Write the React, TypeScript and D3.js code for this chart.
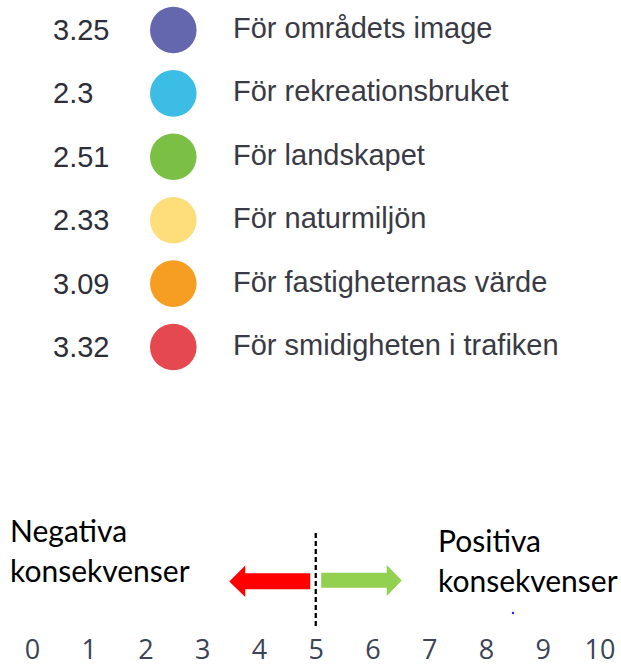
import React from "react";
import * as d3 from "d3";

const categories = [
  "För områdets image",
  "För rekreationsbruket",
  "För landskapet",
  "För naturmiljön",
  "För fastigheternas värde",
  "För smidigheten i trafiken",
];
const values = [3.25, 2.3, 2.51, 2.33, 3.09, 3.32];
const colors = ["#6567ae", "#3cbde6", "#7bbf44", "#fedd7b", "#f59e21", "#e5484f"];
const ticks = [0, 1, 2, 3, 4, 5, 6, 7, 8, 9, 10];
const negLabel = ["Negativa", "konsekvenser"];
const posLabel = ["Positiva", "konsekvenser"];
const midpoint = 5;

const W = 621;
const H = 664;

export default function App() {
  const y = d3.scalePoint<number>().domain(d3.range(categories.length)).range([30, 347]);
  const x = d3.scaleLinear().domain([0, 10]).range([32.5, 600]);
  const mid = x(midpoint);

  const redArrow = `M${mid - 6},573.3 L${mid - 71},573.3 L${mid - 71},565.5 L${mid - 87},581.5 L${mid - 71},597 L${mid - 71},589.3 L${mid - 6},589.3 Z`;
  const greenArrow = `M${mid + 5},572.7 L${mid + 70.5},572.7 L${mid + 70.5},565 L${mid + 85.5},580.5 L${mid + 70.5},596 L${mid + 70.5},587.7 L${mid + 5},587.7 Z`;

  return (
    <svg width={W} height={H} style={{ position: "absolute", left: 0, top: 0 }}>
      <rect width={W} height={H} fill="#ffffff" />
      {categories.map((c, i) => (
        <g key={c}>
          <text
            x={53}
            y={y(i)! + 10}
            fontFamily="Liberation Sans, Arial, sans-serif"
            fontSize={29}
            fill="#2e2e38"
          >
            {values[i]}
          </text>
          <circle cx={173.3} cy={y(i)!} r={23.3} fill={colors[i]} />
          <text
            x={233}
            y={y(i)! + 8}
            fontFamily="Liberation Sans, Arial, sans-serif"
            fontSize={29}
            fill="#3a3a44"
          >
            {c}
          </text>
        </g>
      ))}

      {negLabel.map((t, i) => (
        <text key={"n" + i} x={10} y={542 + i * 40} fontFamily="Lato, sans-serif" fontSize={30} fill="#000">
          {t}
        </text>
      ))}
      {posLabel.map((t, i) => (
        <text key={"p" + i} x={438} y={552 + i * 40} fontFamily="Lato, sans-serif" fontSize={30} fill="#000">
          {t}
        </text>
      ))}

      <path d={redArrow} fill="#ff0000" />
      <path d={greenArrow} fill="#92d050" />
      <line x1={mid - 0.5} x2={mid - 0.5} y1={533} y2={628} stroke="#000" strokeWidth={2.3} strokeDasharray="5,3" />
      <circle cx={513} cy={613} r={1.2} fill="#2020ff" />

      {ticks.map((t) => (
        <text
          key={t}
          x={x(t)}
          y={659}
          textAnchor="middle"
          fontFamily="Open Sans, sans-serif"
          fontWeight={500}
          fontSize={27}
          fill="#3b4354"
        >
          {t}
        </text>
      ))}
    </svg>
  );
}
